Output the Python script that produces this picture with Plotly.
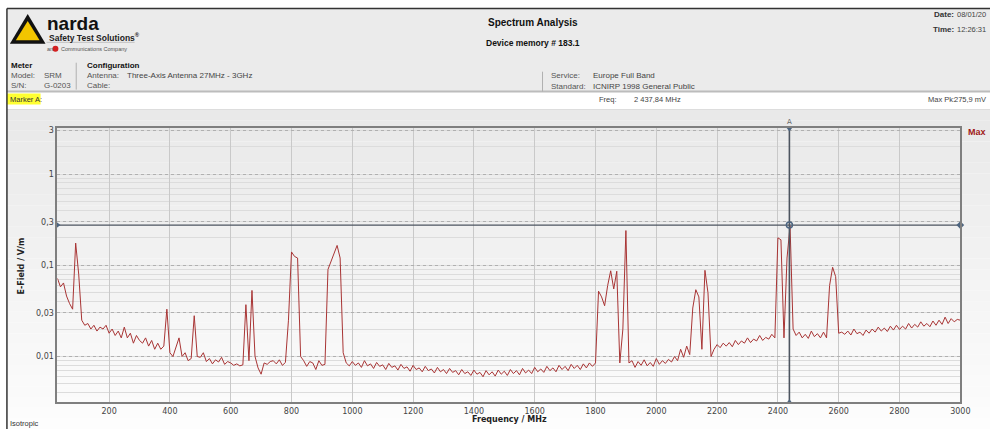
import plotly.graph_objects as go

# ---------------- data ----------------
freq_start_mhz = 30
freq_step_mhz = 10
# E-field level (V/m), one value every 10 MHz from 30 MHz to 3000 MHz
efield_vm = [
    0.072, 0.058, 0.064, 0.046, 0.038, 0.033, 0.175, 0.080, 0.025, 0.022,      # 30-120
    0.023, 0.020, 0.022, 0.019, 0.021, 0.020, 0.022, 0.018, 0.020, 0.017,      # 130-220
    0.019, 0.016, 0.021, 0.016, 0.018, 0.014, 0.017, 0.015, 0.014, 0.016,      # 230-320
    0.013, 0.015, 0.012, 0.014, 0.012, 0.013, 0.033, 0.011, 0.010, 0.013,      # 330-420
    0.016, 0.010, 0.011, 0.009, 0.0095, 0.028, 0.010, 0.0098, 0.011, 0.0088,   # 430-520
    0.0095, 0.0083, 0.0092, 0.0087, 0.0098, 0.0082, 0.0088, 0.0085, 0.0080, 0.0083,  # 530-620
    0.0079, 0.0081, 0.037, 0.009, 0.053, 0.010, 0.0075, 0.0064, 0.0085, 0.0082,      # 630-720
    0.0088, 0.0090, 0.0083, 0.0092, 0.0080, 0.0086, 0.025, 0.140, 0.125, 0.120,      # 730-820
    0.010, 0.0090, 0.0078, 0.0088, 0.0085, 0.0072, 0.0090, 0.0080, 0.0082, 0.090,    # 830-920
    0.110, 0.140, 0.165, 0.120, 0.011, 0.0085, 0.0079, 0.0088, 0.0080, 0.0085,       # 930-1020
    0.0076, 0.0090, 0.0079, 0.0083, 0.0074, 0.0086, 0.0078, 0.0081, 0.0072, 0.0084,  # 1030-1120
    0.0076, 0.0079, 0.0071, 0.0082, 0.0074, 0.0077, 0.0069, 0.0080, 0.0072, 0.0075,  # 1130-1220
    0.0068, 0.0078, 0.0070, 0.0073, 0.0066, 0.0076, 0.0068, 0.0072, 0.0065, 0.0074,  # 1230-1320
    0.0067, 0.0070, 0.0063, 0.0072, 0.0065, 0.0068, 0.0062, 0.0071, 0.0064, 0.0067,  # 1330-1420
    0.0060, 0.0070, 0.0063, 0.0068, 0.0061, 0.0071, 0.0064, 0.0069, 0.0062, 0.0072,  # 1430-1520
    0.0065, 0.0070, 0.0063, 0.0074, 0.0066, 0.0071, 0.0065, 0.0076, 0.0068, 0.0073,  # 1530-1620
    0.0067, 0.0078, 0.0070, 0.0075, 0.0068, 0.0080, 0.0072, 0.0078, 0.0070, 0.0082,  # 1630-1720
    0.0074, 0.0080, 0.0072, 0.0083, 0.0075, 0.0085, 0.0078, 0.0085, 0.052, 0.045,    # 1730-1820
    0.036, 0.060, 0.087, 0.055, 0.086, 0.0085, 0.020, 0.240, 0.0085, 0.0090,         # 1830-1920
    0.0076, 0.0088, 0.0080, 0.0092, 0.0079, 0.0086, 0.0078, 0.0095, 0.0082, 0.0090,  # 1930-2020
    0.0084, 0.0093, 0.0087, 0.0100, 0.0090, 0.0120, 0.0098, 0.0130, 0.0105, 0.034,   # 2030-2120
    0.054, 0.045, 0.012, 0.088, 0.050, 0.010, 0.012, 0.0135, 0.0125, 0.0140,         # 2130-2220
    0.0130, 0.0142, 0.0128, 0.0150, 0.0135, 0.0148, 0.0140, 0.0160, 0.0142, 0.0155,  # 2230-2320
    0.0148, 0.0170, 0.0150, 0.0162, 0.0155, 0.0175, 0.0160, 0.200, 0.190, 0.016,     # 2330-2420
    0.120, 0.270, 0.020, 0.0170, 0.0185, 0.0160, 0.0175, 0.0158, 0.0190, 0.0165,     # 2430-2520
    0.0178, 0.0160, 0.0185, 0.0160, 0.060, 0.095, 0.075, 0.018, 0.0185, 0.0175,      # 2530-2620
    0.0190, 0.0172, 0.0200, 0.0178, 0.0185, 0.0170, 0.0195, 0.0180, 0.0200, 0.0185,  # 2630-2720
    0.0210, 0.0190, 0.0205, 0.0188, 0.0215, 0.0195, 0.0220, 0.0198, 0.0215, 0.0200,  # 2730-2820
    0.0230, 0.0205, 0.0225, 0.0210, 0.0240, 0.0215, 0.0230, 0.0212, 0.0245, 0.0220,  # 2830-2920
    0.0250, 0.0225, 0.0270, 0.0230, 0.0260, 0.0240, 0.0255, 0.0250,                  # 2930-3000
]
freq_mhz = [freq_start_mhz + freq_step_mhz * i for i in range(len(efield_vm))]

x_range = [30, 3000]
x_tick_vals = [200, 400, 600, 800, 1000, 1200, 1400, 1600, 1800, 2000, 2200, 2400, 2600, 2800, 3000]
y_tick_vals = [3, 1, 0.3, 0.1, 0.03, 0.01]
y_tick_text = ["3", "1", "0,3", "0,1", "0,03", "0,01"]
y_log_range = [-2.5, 0.5]

marker_freq = 2437.84
marker_level = 0.2759

# ---------------- figure ----------------
W, H = 1000, 429
def px(x):
    return x / W
def py(y):
    return 1 - y / H

fig = go.Figure()

fig.add_trace(go.Scatter(
    x=freq_mhz, y=efield_vm, mode="lines",
    line=dict(color="#a83434", width=1), hoverinfo="skip", showlegend=False))

# horizontal marker crosshair at marker level
fig.add_trace(go.Scatter(
    x=[x_range[0], x_range[1]], y=[marker_level, marker_level], mode="lines+markers",
    line=dict(color="#4d5560", width=1.3),
    marker=dict(symbol=["triangle-right", "diamond"], size=6, color="#4d6580"),
    cliponaxis=False, hoverinfo="skip", showlegend=False))
# vertical marker line
fig.add_trace(go.Scatter(
    x=[marker_freq, marker_freq], y=[10 ** y_log_range[1], 10 ** y_log_range[0]], mode="lines+markers",
    line=dict(color="#4d5560", width=1.6),
    marker=dict(symbol=["triangle-down", "triangle-up"], size=6, color="#4d6580"),
    cliponaxis=False, hoverinfo="skip", showlegend=False))
# marker point
fig.add_trace(go.Scatter(
    x=[marker_freq], y=[marker_level], mode="markers",
    marker=dict(symbol="circle-open", size=6, color="#4d6580", line=dict(width=1.5)),
    cliponaxis=False, hoverinfo="skip", showlegend=False))

shapes = []
# gradient background of chart region
nb = 30
top, bot = 108, 429
for i in range(nb):
    y0 = top + (bot - top) * i / nb
    y1 = top + (bot - top) * (i + 1) / nb
    t = i / (nb - 1)
    c = int(233 + (253 - 233) * t)
    shapes.append(dict(type="rect", xref="paper", yref="paper", x0=px(7), x1=1, y0=py(y1), y1=py(y0),
                       fillcolor=f"rgb({c},{c},{c})", line=dict(width=0), layer="below"))
# header
shapes.append(dict(type="rect", xref="paper", yref="paper", x0=px(7), x1=1, y0=py(90), y1=py(7),
                   fillcolor="#ebebeb", line=dict(width=0), layer="below"))
shapes.append(dict(type="line", xref="paper", yref="paper", x0=px(7), x1=1, y0=py(90), y1=py(90),
                   line=dict(color="#bcbcbc", width=2)))
shapes.append(dict(type="line", xref="paper", yref="paper", x0=px(7), x1=1, y0=py(108), y1=py(108),
                   line=dict(color="#dddddd", width=1)))
# page frame
shapes.append(dict(type="line", xref="paper", yref="paper", x0=px(7), x1=1, y0=py(6.5), y1=py(6.5),
                   line=dict(color="#333333", width=1.5)))
shapes.append(dict(type="line", xref="paper", yref="paper", x0=px(7), x1=px(7), y0=0, y1=py(6.5),
                   line=dict(color="#333333", width=1.5)))
# separators
shapes.append(dict(type="line", xref="paper", yref="paper", x0=px(77), x1=px(77), y0=py(88), y1=py(61),
                   line=dict(color="#b0b0b0", width=1)))
shapes.append(dict(type="line", xref="paper", yref="paper", x0=px(548), x1=px(548), y0=py(90), y1=py(70),
                   line=dict(color="#b0b0b0", width=1)))
# logo triangle
shapes.append(dict(type="path", xref="paper", yref="paper",
                   path=f"M {px(10)},{py(42)} L {px(28)},{py(12)} L {px(46)},{py(42)} Z",
                   fillcolor="#111111", line=dict(width=0)))
shapes.append(dict(type="path", xref="paper", yref="paper",
                   path=f"M {px(16)},{py(38.5)} L {px(28)},{py(19)} L {px(40)},{py(38.5)} Z",
                   fillcolor="#f2c500", line=dict(width=0)))
shapes.append(dict(type="line", xref="paper", yref="paper", x0=px(47), x1=px(136), y0=py(40.5), y1=py(40.5),
                   line=dict(color="#c0c0c0", width=1)))
shapes.append(dict(type="circle", xref="paper", yref="paper", x0=px(53), x1=px(59), y0=py(50), y1=py(44),
                   fillcolor="#d32020", line=dict(width=0)))
# marker A highlight
shapes.append(dict(type="rect", xref="paper", yref="paper", x0=px(7), x1=px(41), y0=py(103), y1=py(92),
                   fillcolor="#ffff33", line=dict(width=0), layer="below"))

anns = []
def txt(x, y, s, size=8, bold=False, color="#333333", xanchor="left", family="Liberation Sans, Arial"):
    anns.append(dict(xref="paper", yref="paper", x=px(x), y=py(y), text=f"<b>{s}</b>" if bold else s,
                     showarrow=False, xanchor=xanchor, yanchor="middle",
                     font=dict(size=size, color=color, family=family)))

txt(45, 22, "narda", size=19, bold=True, color="#111111")
txt(47, 36, "Safety Test Solutions<sup>®</sup>", size=8.5, bold=True, color="#222222")
txt(45, 47, "an", size=5.5, color="#555555")
txt(60, 47, "Communications Company", size=5.5, color="#555555")

txt(9, 64, "Meter", size=8, bold=True, color="#111111")
txt(9, 74, "Model:", size=8, color="#555555")
txt(42, 74, "SRM", size=8, color="#555555")
txt(9, 84, "S/N:", size=8, color="#555555")
txt(42, 84, "G-0203", size=8, color="#555555")
txt(86, 64, "Configuration", size=8, bold=True, color="#111111")
txt(86, 74, "Antenna:", size=8, color="#555555")
txt(126, 74, "Three-Axis Antenna 27MHz - 3GHz", size=8, color="#444444")
txt(86, 84, "Cable:", size=8, color="#555555")

txt(538, 21, "Spectrum Analysis", size=10, bold=True, color="#111111", xanchor="center")
txt(538, 41, "Device memory # 183.1", size=8.5, bold=True, color="#111111", xanchor="center")

txt(555, 74, "Service:", size=8, color="#555555")
txt(597, 74, "Europe Full Band", size=8, color="#444444")
txt(555, 85, "Standard:", size=8, color="#555555")
txt(597, 85, "ICNIRP 1998 General Public", size=8, color="#444444")

# right-hand texts kept inside the 1000 px page
txt(966, 13, "Date:", size=8, bold=True, color="#333333", xanchor="right")
txt(998, 13, "08/01/20", size=7.5, color="#444444", xanchor="right")
txt(966, 28, "Time:", size=8, bold=True, color="#333333", xanchor="right")
txt(998, 28, "12:26:31", size=7.5, color="#444444", xanchor="right")

txt(8, 97.5, "Marker A:", size=7.5, color="#333333")
txt(603, 98, "Freq:", size=7.5, color="#444444")
txt(638, 98, "2 437,84 MHz", size=7.5, color="#444444")
txt(935, 98, "Max Pk:", size=7.5, color="#444444")
txt(998, 98, "275,9 mV", size=7.5, color="#444444", xanchor="right")

txt(976, 131, "Max", size=9, bold=True, color="#a01818")
txt(515, 419, "Frequency / MHz", size=8, bold=True, color="#222222", xanchor="center", family="DejaVu Sans")
anns.append(dict(xref="paper", yref="paper", x=px(22), y=py(265), text="<b>E-Field / V/m</b>", textangle=-90,
                 showarrow=False, xanchor="center", yanchor="middle",
                 font=dict(size=8, color="#222222", family="DejaVu Sans")))
anns.append(dict(xref="paper", yref="paper", x=px(9), y=0, text="Isotropic", showarrow=False,
                 xanchor="left", yanchor="bottom", borderpad=0,
                 font=dict(size=7.5, color="#333333", family="Liberation Sans, Arial")))
# "A" marker label above plot
anns.append(dict(xref="x", yref="paper", x=marker_freq, y=py(121), text="A", showarrow=False,
                 xanchor="center", yanchor="middle", font=dict(size=7, color="#666666", family="DejaVu Sans")))

fig.update_layout(
    width=W, height=H, autosize=False, margin=dict(l=0, r=0, t=0, b=0),
    paper_bgcolor="white", plot_bgcolor="rgba(0,0,0,0)",
    shapes=shapes, annotations=anns, showlegend=False,
    xaxis=dict(domain=[px(58), px(970)], range=x_range, tickvals=x_tick_vals,
               showgrid=True, gridcolor="#c9c9c9", gridwidth=1, zeroline=False,
               showline=True, mirror=True, linecolor="#7f7f7f", linewidth=2,
               ticks="", tickfont=dict(size=8, color="#444444", family="DejaVu Sans")),
    yaxis=dict(domain=[py(402), py(127)], type="log", range=y_log_range,
               tickvals=y_tick_vals, ticktext=y_tick_text,
               showgrid=True, gridcolor="#b0b0b0", griddash="dot", gridwidth=1, zeroline=False,
               minor=dict(dtick="D1", showgrid=True, gridcolor="#dcdcdc", gridwidth=1, griddash="solid"),
               showline=True, mirror=True, linecolor="#7f7f7f", linewidth=2,
               ticks="", tickfont=dict(size=8, color="#444444", family="DejaVu Sans")),
)

post = (
    "document.documentElement.style.overflow='hidden';"
    "document.body.style.margin='0';document.body.style.overflow='hidden';"
)
fig.write_html("out.html",
               config={"responsive": False, "displayModeBar": False},
               post_script=post)
